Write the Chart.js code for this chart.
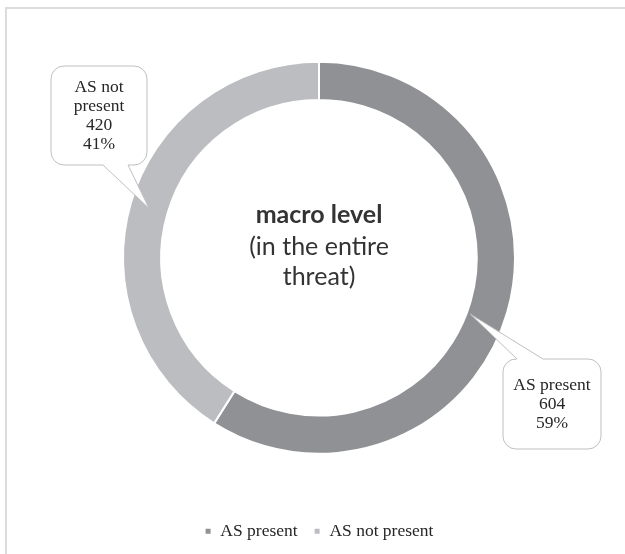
<!DOCTYPE html>
<html>
<head>
<meta charset="utf-8">
<title>macro level</title>
<script src="https://cdn.jsdelivr.net/npm/chart.js@4"></script>
<style>
  html, body { margin: 0; padding: 0; background: #fff; overflow: hidden; }
  .frame {
    position: absolute; left: 5px; top: 7px; width: 700px; height: 700px;
    border: 2px solid #dcdcdc; box-sizing: border-box;
  }
  #chart { position: absolute; left: 0; top: 0; }
</style>
</head>
<body>
<div class="frame"></div>
<canvas id="chart" width="625" height="554"></canvas>
<script>
const labels = ['AS present', 'AS not present'];
const counts = [604, 420];
const sliceColors = ['#909195', '#bcbdc1'];

const centerTitle = 'macro level';
const centerLines = ['(in the entire', 'threat)'];

// rounded rectangle with a pointer wedge cut into its top or bottom edge
function bubblePath(ctx, x, y, w, h, r, side, b0, b1, tip) {
  ctx.beginPath();
  ctx.moveTo(x + r, y);
  if (side === 'top') {
    ctx.lineTo(b0, y);
    ctx.lineTo(tip.x, tip.y);
    ctx.lineTo(b1, y);
  }
  ctx.lineTo(x + w - r, y);
  ctx.arcTo(x + w, y, x + w, y + r, r);
  ctx.lineTo(x + w, y + h - r);
  ctx.arcTo(x + w, y + h, x + w - r, y + h, r);
  if (side === 'bottom') {
    ctx.lineTo(b1, y + h);
    ctx.lineTo(tip.x, tip.y);
    ctx.lineTo(b0, y + h);
  }
  ctx.lineTo(x + r, y + h);
  ctx.arcTo(x, y + h, x, y + h - r, r);
  ctx.lineTo(x, y + r);
  ctx.arcTo(x, y, x + r, y, r);
  ctx.closePath();
}

function wrap(ctx, text, maxW) {
  const words = text.split(' ');
  const lines = [];
  let cur = '';
  words.forEach(w => {
    const t = cur ? cur + ' ' + w : w;
    if (cur && ctx.measureText(t).width > maxW) {
      lines.push(cur);
      cur = w;
    } else {
      cur = t;
    }
  });
  if (cur) lines.push(cur);
  return lines;
}

const calloutPlugin = {
  id: 'callouts',
  afterDraw(chart) {
    const ctx = chart.ctx;
    const meta = chart.getDatasetMeta(0);
    const total = counts.reduce((a, b) => a + b, 0);

    // title in the hole
    const c = meta.data[0];
    ctx.save();
    ctx.fillStyle = '#333333';
    ctx.textAlign = 'center';
    ctx.textBaseline = 'middle';
    ctx.font = 'bold 25px Lato';
    ctx.fillText(centerTitle, c.x, c.y - 43);
    ctx.font = '25px Lato';
    centerLines.forEach((t, i) => ctx.fillText(t, c.x, c.y - 11 + i * 30));
    ctx.restore();

    // value callouts; the pointer lands on the slice it describes
    const boxes = [
      { index: 1, x: 51, y: 66, w: 96, h: 99, side: 'bottom', b0: 103, b1: 128, along: 0.5, depth: 0.5 },
      { index: 0, x: 503, y: 359, w: 98, h: 90, side: 'top', b0: 517, b1: 543, along: 0.52, depth: 0.1 }
    ];

    boxes.forEach(b => {
      const arc = meta.data[b.index];
      const a = arc.startAngle + b.along * (arc.endAngle - arc.startAngle);
      const r = arc.innerRadius + b.depth * (arc.outerRadius - arc.innerRadius);
      const tip = { x: arc.x + r * Math.cos(a), y: arc.y + r * Math.sin(a) };

      ctx.save();
      bubblePath(ctx, b.x, b.y, b.w, b.h, 13, b.side, b.b0, b.b1, tip);
      ctx.fillStyle = '#ffffff';
      ctx.fill();
      ctx.strokeStyle = '#bfbfbf';
      ctx.lineWidth = 1;
      ctx.stroke();

      ctx.font = '17.5px "Liberation Serif"';
      ctx.fillStyle = '#262626';
      ctx.textAlign = 'center';
      ctx.textBaseline = 'middle';
      const pct = Math.round(counts[b.index] / total * 100) + '%';
      const lines = wrap(ctx, labels[b.index], b.w - 10).concat([String(counts[b.index]), pct]);
      const lh = 19;
      const y0 = b.y + b.h / 2 - (lines.length - 1) * lh / 2;
      lines.forEach((t, i) => ctx.fillText(t, b.x + b.w / 2, y0 + i * lh));
      ctx.restore();
    });
  }
};

new Chart(document.getElementById('chart'), {
  type: 'doughnut',
  data: {
    labels: labels,
    datasets: [{
      data: counts,
      backgroundColor: sliceColors,
      borderColor: '#ffffff',
      borderWidth: 2
    }]
  },
  options: {
    responsive: false,
    animation: false,
    devicePixelRatio: 1,
    radius: 196,
    cutout: '80.5%',
    layout: { padding: { top: 9, left: 13, right: 0, bottom: 4 } },
    plugins: {
      tooltip: { enabled: false },
      legend: {
        position: 'bottom',
        labels: {
          boxWidth: 7,
          boxHeight: 7,
          padding: 16,
          color: '#262626',
          font: { family: '"Liberation Serif"', size: 17.5 }
        }
      }
    }
  },
  plugins: [calloutPlugin]
});
</script>
</body>
</html>
